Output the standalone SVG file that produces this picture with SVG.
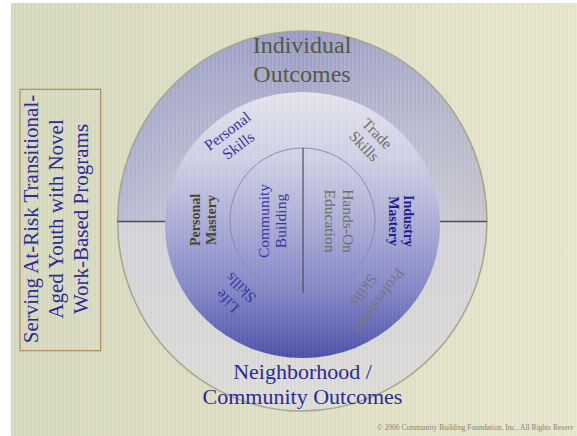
<svg xmlns="http://www.w3.org/2000/svg" width="577" height="436" viewBox="0 0 577 436">
  <defs>
    <linearGradient id="bgGrad" x1="0" y1="0" x2="1" y2="0">
      <stop offset="0" stop-color="#d7d9bd"/>
      <stop offset="0.5" stop-color="#dfdfc4"/>
      <stop offset="1" stop-color="#e8e6cd"/>
    </linearGradient>
    <pattern id="stripes" width="4" height="10" patternUnits="userSpaceOnUse">
      <rect x="0" y="0" width="1.5" height="10" fill="#ffffff" opacity="0.10"/>
      <rect x="2.5" y="0" width="1" height="10" fill="#8a8a70" opacity="0.06"/>
    </pattern>
    <linearGradient id="topRing" x1="0" y1="31" x2="0" y2="221" gradientUnits="userSpaceOnUse">
      <stop offset="0" stop-color="#9799c3"/>
      <stop offset="0.45" stop-color="#aeb0cb"/>
      <stop offset="1" stop-color="#c8c8d6"/>
    </linearGradient>
    <linearGradient id="topRingSide" x1="118" y1="0" x2="487" y2="0" gradientUnits="userSpaceOnUse">
      <stop offset="0" stop-color="#8c90c8" stop-opacity="0.25"/>
      <stop offset="0.5" stop-color="#ffffff" stop-opacity="0"/>
      <stop offset="1" stop-color="#c0c0c0" stop-opacity="0.35"/>
    </linearGradient>
    <linearGradient id="bottomRing" x1="0" y1="221" x2="0" y2="411" gradientUnits="userSpaceOnUse">
      <stop offset="0" stop-color="#d3d3da"/>
      <stop offset="1" stop-color="#dddcd6"/>
    </linearGradient>
    <linearGradient id="innerGrad" x1="0" y1="92" x2="0" y2="358" gradientUnits="userSpaceOnUse">
      <stop offset="0" stop-color="#e4e4ee"/>
      <stop offset="0.25" stop-color="#cfd0e5"/>
      <stop offset="0.5" stop-color="#aaacd6"/>
      <stop offset="0.75" stop-color="#8185c6"/>
      <stop offset="1" stop-color="#4a4fa9"/>
    </linearGradient>
    <style>
      .serif { font-family: "Liberation Serif", "Times New Roman", serif; }
      .title { font-size: 24px; fill: #575745; text-anchor: middle; }
      .bottomTitle { font-size: 22px; fill: #2b2b96; text-anchor: middle; }
      .side { font-size: 21px; fill: #2b2b9a; text-anchor: middle; }
      .lbl { font-size: 15.5px; text-anchor: middle; }
      .bold { font-size: 14px; font-weight: bold; text-anchor: middle; }
      .blue { fill: #3636a2; }
      .gray { fill: #6e6e66; }
      .lgray { fill: #76767e; }
      .olive { fill: #48462e; }
      .navy { fill: #1e1e8e; }
      .divider { stroke: #4c4c4c; stroke-width: 1.5; fill: none; }
    </style>
  </defs>

  <!-- background -->
  <rect x="0" y="0" width="577" height="436" fill="#ffffff"/>
  <rect x="11" y="3" width="566" height="433" fill="url(#bgGrad)"/>
  <rect x="11" y="3" width="566" height="433" fill="url(#stripes)"/>

  <!-- outer ellipse -->
  <g id="outer-ring">
    <path d="M117.5,221 A184.7,190 0 0 1 487,221 Z" fill="url(#topRing)"/>
    <path d="M117.5,221 A184.7,190 0 0 1 487,221 Z" fill="url(#topRingSide)"/>
    <path d="M117.5,221 A184.7,190 0 0 0 487,221 Z" fill="url(#bottomRing)"/>
    <ellipse cx="302.25" cy="221" rx="184.7" ry="190" fill="url(#stripes)" stroke="#a6a48e" stroke-width="1.5"/>
  </g>

  <!-- inner circle -->
  <g id="inner-circle">
    <ellipse cx="302.5" cy="225" rx="137.5" ry="133" fill="url(#innerGrad)"/>
    <ellipse cx="302.5" cy="225" rx="137.5" ry="133" fill="url(#stripes)" opacity="0.6"/>
  </g>

  <!-- core circle -->
  <g id="core-circle">
    <circle cx="302.5" cy="220.5" r="72.5" fill="none" stroke="#8a8cb4" stroke-width="1"/>
  </g>

  <!-- dividers -->
  <g id="connectors">
    <line class="divider" x1="117.5" y1="221.5" x2="165" y2="221.5"/>
    <line class="divider" x1="440" y1="221.5" x2="487" y2="221.5"/>
    <line x1="303" y1="148" x2="303" y2="293" stroke="#4e4e62" stroke-width="1.2"/>
  </g>

  <g id="individual-outcomes" class="serif">
    <text class="title" x="302" y="53">Individual</text>
    <text class="title" x="302" y="82">Outcomes</text>
  </g>

  <g id="neighborhood-outcomes" class="serif">
    <text class="bottomTitle" x="302.5" y="379">Neighborhood /</text>
    <text class="bottomTitle" x="302.5" y="404">Community Outcomes</text>
  </g>

  <g id="program-box" class="serif">
    <rect x="20" y="89.3" width="80.7" height="261.4" fill="none" stroke="#b08a62" stroke-width="1.2"/>
    <g transform="translate(63,219) rotate(-90)">
      <text class="side" x="0" y="-25">Serving At-Risk Transitional-</text>
      <text class="side" x="0" y="0">Aged Youth with Novel</text>
      <text class="side" x="0" y="25">Work-Based Programs</text>
    </g>
  </g>

  <g id="personal-skills" class="serif" transform="translate(233,138.5) rotate(-37)">
    <text class="lbl blue" x="0" y="-4">Personal</text>
    <text class="lbl blue" x="0" y="14">Skills</text>
  </g>

  <g id="trade-skills" class="serif" transform="translate(370.5,140) rotate(46)">
    <text class="lbl gray" x="0" y="-4">Trade</text>
    <text class="lbl gray" x="0" y="14">Skills</text>
  </g>

  <g id="personal-mastery" class="serif" transform="translate(208,220) rotate(-90)">
    <text class="bold olive" x="0" y="-8">Personal</text>
    <text class="bold olive" x="0" y="8">Mastery</text>
  </g>

  <g id="community-building" class="serif" transform="translate(277,221) rotate(-90)">
    <text class="lbl blue" x="0" y="-8">Community</text>
    <text class="lbl blue" x="0" y="9">Building</text>
  </g>

  <g id="hands-on-education" class="serif" transform="translate(334,221) rotate(90)">
    <text class="lbl gray" x="0" y="-9">Hands-On</text>
    <text class="lbl gray" x="0" y="9">Education</text>
  </g>

  <g id="industry-mastery" class="serif" transform="translate(397,221) rotate(90)">
    <text class="bold navy" x="0" y="-7">Industry</text>
    <text class="bold navy" x="0" y="8">Mastery</text>
  </g>

  <g id="life-skills" class="serif" transform="translate(234.5,294) rotate(-135)">
    <text class="lbl blue" x="0" y="-5">Life</text>
    <text class="lbl blue" x="0" y="14">Skills</text>
  </g>

  <g id="professional-skills" class="serif" transform="translate(371,295.5) rotate(125)">
    <text class="lbl lgray" x="0" y="-5">Professional</text>
    <text class="lbl lgray" x="0" y="14">Skills</text>
  </g>

  <g id="copyright" class="serif">
    <text x="377" y="430" font-size="7.5" fill="#84846e">© 2006 Community Building Foundation, Inc., All  Rights Reserv</text>
  </g>
</svg>
